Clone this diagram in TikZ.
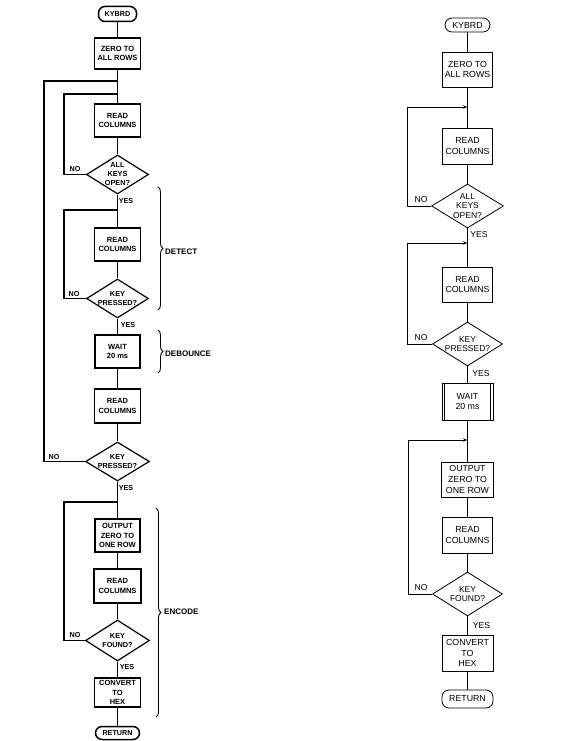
\documentclass[tikz,border=0pt]{standalone}
\usepackage{fontspec}
\setmainfont{Liberation Sans}
\usetikzlibrary{shapes.geometric,arrows.meta,decorations.pathreplacing}
\begin{document}
\begin{tikzpicture}[x=1pt,y=-1pt,
  lbox/.style={draw,line width=1.5pt,inner sep=0pt,align=center,font=\fontsize{7.5}{9.5}\selectfont\bfseries},
  lterm/.style={draw,line width=1.5pt,rounded corners=6.5pt,inner sep=0pt,align=center,font=\fontsize{7.2}{8}\selectfont\bfseries},
  ldia/.style={draw,diamond,line width=1.2pt,inner sep=0pt,shape aspect=1.6,align=center,font=\fontsize{7.3}{9}\selectfont\bfseries},
  lline/.style={line width=1.1pt},
  ltag/.style={inner sep=0pt,font=\fontsize{7.2}{8}\selectfont\bfseries},
  btag/.style={inner sep=0pt,anchor=west,font=\fontsize{8}{9}\selectfont\bfseries},
  lbrace/.style={line width=0.9pt,decorate,decoration={brace,amplitude=5pt}},
  rbox/.style={draw,line width=0.8pt,inner sep=0pt,align=center,font=\fontsize{8.8}{10.8}\selectfont},
  rterm/.style={draw,line width=0.8pt,rounded corners=7pt,inner sep=0pt,align=center,font=\fontsize{8.8}{10}\selectfont},
  rdia/.style={draw,diamond,line width=0.8pt,inner sep=0pt,shape aspect=1.6,align=center,font=\fontsize{8.5}{9.3}\selectfont},
  rline/.style={line width=0.8pt},
  rarrow/.style={line width=0.8pt,-{Stealth[length=4.5pt,width=3.5pt]}},
  rtag/.style={inner sep=0pt,font=\fontsize{8.6}{9}\selectfont}
]
\useasboundingbox (0,0) rectangle (576,741);

% ---------------- left flowchart ----------------
\node[lterm,minimum width=38pt,minimum height=15pt] (k1) at (117.5,14) {KYBRD};
\node[lbox,minimum width=46pt,minimum height=31pt] (z1) at (117.5,53.5) {ZERO TO\\ALL ROWS};
\node[lbox,minimum width=46pt,minimum height=33pt] (r1) at (117.5,120.5) {READ\\COLUMNS};
\node[ldia,minimum width=62pt,minimum height=39pt] (d1) at (117.5,174.5) {ALL\\KEYS\\OPEN?};
\node[lbox,minimum width=46pt,minimum height=33pt] (r2) at (117.5,244.5) {READ\\COLUMNS};
\node[ldia,minimum width=62pt,minimum height=39pt] (d2) at (117.5,298.5) {KEY\\PRESSED?};
\node[lbox,minimum width=45pt,minimum height=33pt] (w1) at (117.5,351.5) {WAIT\\20 ms};
\node[lbox,minimum width=46pt,minimum height=34pt] (r3) at (117.5,406) {READ\\COLUMNS};
\node[ldia,minimum width=64pt,minimum height=39pt] (d3) at (117.5,461.5) {KEY\\PRESSED?};
\node[lbox,minimum width=45pt,minimum height=33pt] (o1) at (117.5,535.5) {OUTPUT\\ZERO TO\\ONE ROW};
\node[lbox,minimum width=47pt,minimum height=34pt] (r4) at (117.5,586) {READ\\COLUMNS};
\node[ldia,minimum width=64pt,minimum height=41pt] (d4) at (117.5,640.5) {KEY\\FOUND?};
\node[lbox,minimum width=46pt,minimum height=29pt] (c1) at (117.5,692.5) {CONVERT\\TO\\HEX};
\node[lterm,minimum width=44pt,minimum height=13pt] (e1) at (117.5,733) {RETURN};

\draw[lline] (k1) -- (z1);
\draw[lline] (z1) -- (r1);
\draw[lline] (r1) -- (d1);
\draw[lline] (d1) -- (r2);
\draw[lline] (r2) -- (d2);
\draw[lline] (d2) -- (w1);
\draw[lline] (w1) -- (r3);
\draw[lline] (r3) -- (d3);
\draw[lline] (d3) -- (o1);
\draw[lline] (o1) -- (r4);
\draw[lline] (r4) -- (d4);
\draw[lline] (d4) -- (c1);
\draw[lline] (c1) -- (e1);

\coordinate (l1) at (64,94);
\coordinate (l2) at (64,210);
\coordinate (l3) at (44,81);
\coordinate (l4) at (64,502);
\draw[lline] (d1.west) -| (l1) -- (l1 -| r1.north);
\draw[lline] (d2.west) -| (l2) -- (l2 -| r2.north);
\draw[lline] (d3.west) -| (l3) -- (l3 -| z1.south);
\draw[lline] (d4.west) -| (l4) -- (l4 -| o1.north);

\node[ltag] (n1) at (75,169.5) {NO};
\node[ltag] (n2) at (74,294) {NO};
\node[ltag] (n3) at (54,457.5) {NO};
\node[ltag] (n4) at (75,635) {NO};
\node[ltag] (y1) at (126,201) {YES};
\node[ltag] (y2) at (128,325) {YES};
\node[ltag] (y3) at (126,488) {YES};
\node[ltag] (y4) at (127,667) {YES};

\coordinate (b1a) at (158,187);
\coordinate (b1b) at (158,310);
\coordinate (b2a) at (158,330);
\coordinate (b2b) at (158,373);
\coordinate (b3a) at (156,508);
\coordinate (b3b) at (156,717);
\draw[lbrace] (b1a) -- (b1b);
\draw[lbrace] (b2a) -- (b2b);
\draw[lbrace] (b3a) -- (b3b);
\node[btag] (t1) at (165,252) {DETECT};
\node[btag] (t2) at (165,354) {DEBOUNCE};
\node[btag] (t3) at (164,612) {ENCODE};

% ---------------- right flowchart ----------------
\node[rterm,minimum width=45pt,minimum height=14pt] (K2) at (467.5,25) {KYBRD};
\node[rbox,minimum width=50pt,minimum height=35pt] (Z2) at (467.5,69.5) {ZERO TO\\ALL ROWS};
\node[rbox,minimum width=50pt,minimum height=36pt] (R2a) at (467.5,146) {READ\\COLUMNS};
\node[rdia,minimum width=72pt,minimum height=44pt] (D2a) at (467.5,206) {ALL\\KEYS\\OPEN?};
\node[rbox,minimum width=50pt,minimum height=35pt] (R2b) at (467.5,284.5) {READ\\COLUMNS};
\node[rdia,minimum width=70pt,minimum height=44pt] (D2b) at (467.5,344) {KEY\\PRESSED?};
\node[rbox,minimum width=51pt,minimum height=37pt] (W2) at (467.5,401.5) {WAIT\\20 ms};
\node[rbox,minimum width=52pt,minimum height=35pt] (O2) at (467.5,479.5) {OUTPUT\\ZERO TO\\ONE ROW};
\node[rbox,minimum width=50pt,minimum height=36pt] (R2c) at (467.5,535) {READ\\COLUMNS};
\node[rdia,minimum width=70pt,minimum height=44pt] (D2c) at (467.5,594) {KEY\\FOUND?};
\node[rbox,minimum width=51pt,minimum height=36pt] (C2) at (467.5,653) {CONVERT\\TO\\HEX};
\node[rterm,minimum width=51pt,minimum height=18pt] (E2) at (467.5,699) {RETURN};

\draw[rline] ([xshift=3pt]W2.north west) -- ([xshift=3pt]W2.south west);
\draw[rline] ([xshift=-3pt]W2.north east) -- ([xshift=-3pt]W2.south east);

\draw[rline] (K2) -- (Z2);
\draw[rline] (Z2) -- (R2a);
\draw[rline] (R2a) -- (D2a);
\draw[rline] (D2a) -- (R2b);
\draw[rline] (R2b) -- (D2b);
\draw[rline] (D2b) -- (W2);
\draw[rline] (W2) -- (O2);
\draw[rline] (O2) -- (R2c);
\draw[rline] (R2c) -- (D2c);
\draw[rline] (D2c) -- (C2);
\draw[rline] (C2) -- (E2);

\coordinate (m1) at (407,107);
\coordinate (m2) at (407,243);
\coordinate (m3) at (408,440);
\draw[rarrow] (D2a.west) -| (m1) -- (m1 -| Z2.south);
\draw[rarrow] (D2b.west) -| (m2) -- (m2 -| R2b.north);
\draw[rarrow] (D2c.west) -| (m3) -- (m3 -| O2.north);

\node[rtag] (N1) at (421,200) {NO};
\node[rtag] (N2) at (421,338) {NO};
\node[rtag] (N3) at (421,588) {NO};
\node[rtag] (Y1) at (479,235) {YES};
\node[rtag] (Y2) at (481,374) {YES};
\node[rtag] (Y3) at (481.5,626) {YES};
\end{tikzpicture}
\end{document}
